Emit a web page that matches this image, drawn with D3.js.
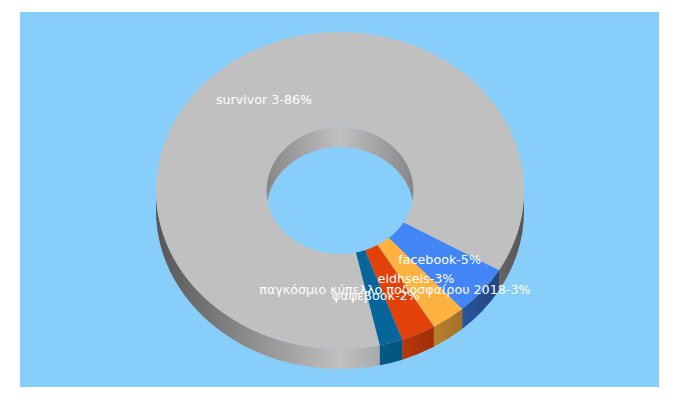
<!DOCTYPE html>
<html>
<head>
<meta charset="utf-8">
<script src="https://cdn.jsdelivr.net/npm/d3@7"></script>
<style>
  html, body { margin: 0; padding: 0; background: #fff; }
  text { font-family: "DejaVu Sans", sans-serif; font-size: 12.7px; fill: #fff; text-anchor: middle; }
</style>
</head>
<body>
<svg id="chart" width="680" height="400"></svg>
<script>
const labels = ['survivor 3', 'facebook', 'eidhseis', 'παγκόσμιο κύπελλο ποδοσφαίρου 2018', 'φαψεβοοκ'];
const values = [86, 5, 3, 3, 2];
const colors = ['#c0c0c0', '#4285f4', '#ffb23f', '#e2420a', '#06659a'];

const panel = { x: 20, y: 12, width: 639, height: 375 };
const center = { x: 340, y: 190.5 };
const radius = { x: 184, y: 158.5 };
const innerRatio = 0.4;
const depth = 20;

// the pie is worked out on a unit circle, these stretch it onto the tilted ellipse
const sx = d3.scaleLinear().domain([-1, 1]).range([center.x - radius.x, center.x + radius.x]);
const sy = d3.scaleLinear().domain([-1, 1]).range([center.y - radius.y, center.y + radius.y]);

const pie = d3.pie().sort(null)
  .startAngle(167.5 * Math.PI / 180)
  .endAngle((167.5 + 360) * Math.PI / 180);
const slices = pie(values);

const svg = d3.select('#chart');
const defs = svg.append('defs');

const shade = defs.append('linearGradient')
  .attr('id', 'shade')
  .attr('gradientUnits', 'userSpaceOnUse')
  .attr('x1', center.x - radius.x).attr('x2', center.x + radius.x)
  .attr('y1', 0).attr('y2', 0);
[[0, 0.55], [0.5, 0], [1, 0.55]].forEach(s => {
  shade.append('stop').attr('offset', s[0]).attr('stop-color', '#000').attr('stop-opacity', s[1]);
});

const holeShade = defs.append('linearGradient')
  .attr('id', 'holeShade')
  .attr('gradientUnits', 'userSpaceOnUse')
  .attr('x1', sx(-innerRatio)).attr('x2', sx(innerRatio))
  .attr('y1', 0).attr('y2', 0);
[[0, 0.3], [0.5, 0], [1, 0.3]].forEach(s => {
  holeShade.append('stop').attr('offset', s[0]).attr('stop-color', '#000').attr('stop-opacity', s[1]);
});

function point(angle, r, dy) {
  return [sx(r * Math.sin(angle)), sy(-r * Math.cos(angle)) + (dy || 0)];
}

function ellipseArc(a0, a1, r, dy) {
  const p = point(a1, r, dy);
  const large = Math.abs(a1 - a0) > Math.PI ? 1 : 0;
  const sweep = a1 > a0 ? 1 : 0;
  return `A${radius.x * r},${radius.y * r} 0 ${large} ${sweep} ${p[0]},${p[1]}`;
}

function topPath(d) {
  const a = point(d.startAngle, 1);
  const b = point(d.endAngle, innerRatio);
  return `M${a[0]},${a[1]}` + ellipseArc(d.startAngle, d.endAngle, 1) +
    `L${b[0]},${b[1]}` + ellipseArc(d.endAngle, d.startAngle, innerRatio) + 'Z';
}

function wallPath(a0, a1, r) {
  const a = point(a0, r);
  const b = point(a1, r, depth);
  return `M${a[0]},${a[1]}` + ellipseArc(a0, a1, r) +
    `L${b[0]},${b[1]}` + ellipseArc(a1, a0, r, depth) + 'Z';
}

// outer wall shows only on the lower half of the ellipse: 90 to 270 degrees
function frontRange(d) {
  const lo = Math.PI / 2, hi = 3 * Math.PI / 2;
  const ranges = [];
  [0, 2 * Math.PI].forEach(k => {
    const a0 = Math.max(d.startAngle, lo + k);
    const a1 = Math.min(d.endAngle, hi + k);
    if (a1 > a0) ranges.push([a0, a1]);
  });
  return ranges;
}

// backdrop
svg.append('rect')
  .attr('x', panel.x).attr('y', panel.y)
  .attr('width', panel.width).attr('height', panel.height)
  .attr('fill', '#87cefa');

// inner wall, the far side of the hole
const holeBack = [3 * Math.PI / 2, 5 * Math.PI / 2];
svg.append('path').attr('d', wallPath(holeBack[0], holeBack[1], innerRatio)).attr('fill', colors[0]);
svg.append('path').attr('d', wallPath(holeBack[0], holeBack[1], innerRatio)).attr('fill', 'url(#holeShade)');

// outer wall
slices.forEach((d, i) => {
  frontRange(d).forEach(r => {
    svg.append('path').attr('d', wallPath(r[0], r[1], 1)).attr('fill', colors[i]);
    svg.append('path').attr('d', wallPath(r[0], r[1], 1)).attr('fill', 'url(#shade)');
  });
});

// top face
svg.append('g').selectAll('path')
  .data(slices)
  .enter().append('path')
  .attr('d', topPath)
  .attr('fill', (d, i) => colors[i]);

// labels sit on the arc centroid of the ring
const centroid = d3.arc().innerRadius(innerRatio).outerRadius(1);
svg.append('g').selectAll('text')
  .data(slices)
  .enter().append('text')
  .attr('x', d => sx(centroid.centroid(d)[0]))
  .attr('y', d => sy(centroid.centroid(d)[1]) + 3)
  .text((d, i) => `${labels[i]}-${values[i]}%`);
</script>
</body>
</html>
